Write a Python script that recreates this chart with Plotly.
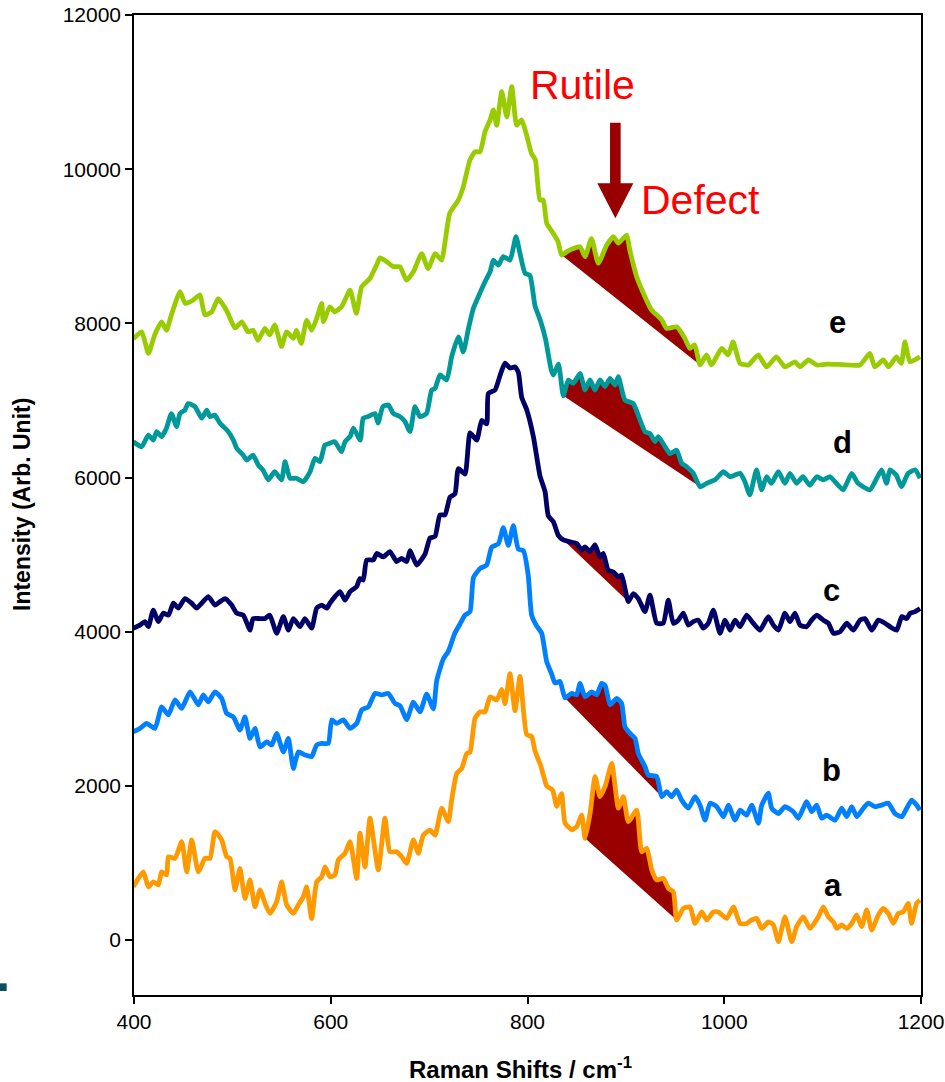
import plotly.graph_objects as go

# Raman spectra of samples a-e (offset stacked), wavenumber in cm-1
shift_e = [399.3, 407.8, 414.6, 421, 428, 433, 438, 446.8, 452, 460, 467, 472, 479, 485.6, 494, 502.7,
           509.5, 516, 521, 526, 533, 538, 543, 550, 555, 562, 565, 570, 575.5, 580.6, 585.7, 590.8,
           592.5, 599, 604, 611, 619.6, 626, 631.5, 640, 646.7, 650, 657, 663.6, 670.4, 677, 684, 692.4,
           699, 706, 712.8, 716, 721, 729.7, 734.7, 741.5, 746.6, 751.7, 756.8, 762, 765.3, 768.7, 773.8,
           778.9, 784, 789, 794, 799, 804, 808, 812.6, 816, 819.5, 826, 831, 834.7, 840, 846.5, 853.4,
           858.5, 865, 872, 880.5, 887.3, 892.3, 900.8, 904, 911, 919.4, 926, 931.3, 936.4, 941.5, 951.6,
           960, 965, 970, 975.4, 982, 987, 997.4, 1004, 1009, 1016, 1024.5, 1034.5, 1043, 1053, 1061.7,
           1072, 1077, 1085.5, 1094, 1104, 1120, 1138, 1148, 1153, 1161.7, 1167, 1175, 1180, 1183.6,
           1188.8, 1199]
int_e = [7800, 7890, 7610, 7850, 8020, 7910, 8110, 8410, 8260, 8300, 8370, 8110, 8150, 8320, 8170, 7940,
         8020, 7890, 7910, 7780, 7935, 7850, 7980, 7700, 7890, 7805, 7910, 7740, 8040, 7910, 8065, 8260,
         8020, 8215, 8150, 8215, 8430, 8130, 8475, 8585, 8760, 8850, 8800, 8735, 8735, 8560, 8670, 8905,
         8710, 8905, 8820, 9040, 9430, 9600, 9770, 10120, 10225, 10225, 10485, 10640, 10770, 10570, 11005,
         10680, 11070, 10570, 10640, 10445, 10205, 10120, 9600, 9600, 9300, 9170, 9060, 8885, 8930, 8970, 8995,
         8865, 9100, 8780, 9015, 9125, 9040, 9145, 8950, 8605, 8345, 8175, 8110, 8045, 7935, 7955,
         7805, 7675, 7720, 7460, 7590, 7460, 7675, 7590, 7760, 7480, 7460, 7590, 7435, 7565, 7435,
         7500, 7435, 7525, 7460, 7470, 7465, 7460, 7610, 7435, 7525, 7435, 7565, 7480, 7760,
         7500, 7565]

shift_d = [399.3, 407.8, 414.6, 419.6, 423, 428, 433, 438, 443.3, 446.7, 451.8, 455, 462, 468.8, 474, 477,
           482, 487.4, 495.8, 501, 504.4, 511, 514.6, 521, 526.4, 531, 536.5, 543, 550, 553.5, 558.6, 565,
           572, 579, 584, 589, 594, 599, 604, 611, 614.5, 619.6, 623, 630, 633, 638, 645, 648, 653, 658.6,
           663.6, 670.4, 675.5, 680.6, 685.6, 690.7, 697.4, 702.6, 706, 711, 717.8, 723, 729.7, 734.7, 740,
           745, 750, 756.8, 762, 765.3, 770.3, 775.4, 782.2, 788.3, 792.4, 797.5, 802.5, 807.6, 813.5,
           818.5, 824, 826.3, 831.5, 836.4, 841.5, 846.5, 853.4, 858.5, 863.5, 868.6, 873.7, 878.8, 883.9,
           889, 892.3, 899, 907.5, 914.4, 919.4, 924.5, 929.6, 933, 939.8, 944.8, 951.6, 956.7, 961.8,
           968.5, 975.4, 982, 990.6, 999, 1006, 1016, 1021, 1026, 1032.8, 1038, 1043, 1048, 1055, 1061.7,
           1066.8, 1073.5, 1080, 1087, 1094, 1100.6, 1107.5, 1114, 1121, 1129.5, 1136, 1148, 1155, 1160,
           1165, 1168.5, 1175, 1180, 1187, 1194, 1199]
int_d = [6465, 6400, 6550, 6485, 6595, 6530, 6640, 6830, 6660, 6830, 6875, 6960, 6920, 6770, 6875, 6790,
         6810, 6705, 6595, 6485, 6380, 6290, 6225, 6290, 6160, 6100, 5970, 6075, 5970, 6205, 5990, 5990,
         5945, 6075, 6250, 6205, 6420, 6445, 6465, 6335, 6465, 6530, 6640, 6485, 6770, 6790, 6830, 6705, 6920, 6940,
         6830, 6790, 6725, 6595, 6920, 6790, 6830, 7135, 7155, 7330, 7265, 7570, 7825, 7630, 7935,
         8195, 8345, 8540, 8670, 8820, 8755, 8865, 8820, 9125, 8905, 8650, 8620, 8230, 8020,
         7785, 7400, 7330, 7470, 7060, 7265, 7220, 7350, 7135, 7265, 7135, 7265, 7180, 7285,
         7200, 7310, 7005, 6960, 6745, 6595, 6570, 6465, 6530, 6400, 6310, 6355, 6185, 6140,
         6055, 5880, 5925, 5970, 6075, 6010, 6055, 5945, 5775, 6100, 5840, 6010, 5925, 6075, 5925,
         6055, 5925, 6010, 5900, 6010, 5970, 6010, 5925, 5840, 6055, 5925, 5840, 5990, 6100,
         5925, 6100, 6030, 5880, 6055, 6100, 5990]

shift_c = [399.3, 406, 411, 414.6, 419.6, 424.7, 429.8, 435, 440, 445, 451.8, 458.6, 463.6, 468.8, 475.6,
           482.3, 487.4, 492.5, 499.3, 504.4, 511, 518, 521, 528, 533, 538, 545, 551.8, 556.9, 562, 568.7,
           573.8, 580.6, 585.7, 590.8, 595.9, 599.2, 604.3, 609.4, 614.5, 619.6, 626.3, 629.7, 633, 636.5,
           643.3, 646.7, 653.4, 660.2, 667, 672, 677.2, 680.6, 687.4, 695.8, 700.9, 706, 711, 716.1, 721.2,
           726.3, 729.7, 736.5, 741.6, 748.4, 753.4, 758.5, 760.2, 767, 772, 777.1, 782.2, 787.3, 790.7,
           794.1, 799.2, 806, 812.7, 817.8, 821.2, 826.3, 831.3, 836.4, 843.2, 850, 855, 858.5, 863.5,
           868.6, 873.7, 877, 882, 887.2, 892.3, 895.7, 902.5, 907.6, 912.6, 919.4, 924.5, 931.3, 938,
           943.1, 948.2, 953.3, 958.4, 963.5, 968.5, 973.6, 978.7, 983.8, 988.9, 995.7, 1000.8, 1005.9,
           1011, 1016, 1022.8, 1029.5, 1036.3, 1044.8, 1049.9, 1055, 1061.7, 1066.8, 1071.9, 1077, 1083.7,
           1088.8, 1094, 1100.7, 1105.8, 1110.9, 1117.7, 1124.5, 1131.3, 1138, 1143, 1150, 1156.6, 1163.4,
           1168.5, 1175.3, 1180.4, 1185.5, 1189, 1194, 1199]
int_c = [4045, 4085, 4130, 4065, 4280, 4130, 4240, 4215, 4370, 4305, 4430, 4370, 4305, 4370, 4455,
         4345, 4390, 4430, 4345, 4240, 4215, 4020, 4170, 4170, 4170, 4215, 3980, 4195, 4020, 4170, 4065,
         4170, 4045, 4305, 4345, 4305, 4370, 4455, 4520, 4410, 4520, 4585, 4690, 4670, 4930,
         4930, 5015, 4970, 5040, 4910, 4950, 4910, 5050, 4865, 5005, 5215, 5235, 5515, 5515, 5745,
         5790, 6115, 6045, 6580, 6485, 6740, 6695, 7090, 7135, 7320, 7485, 7420, 7435, 7365,
         7040, 6880, 6530, 6020, 5820, 5500, 5425, 5250, 5190, 5165, 5145, 5060, 5100, 5040,
         5125, 4970, 5015, 4800, 4775, 4710, 4735, 4390, 4495, 4430, 4260, 4475, 4110, 4110,
         4410, 4110, 4150, 4240, 4085, 4130, 4150, 4045, 4110, 4280, 3980, 4150, 4020,
         4150, 4065, 4215, 4110, 4020, 4195, 4085, 4020, 4240, 4130, 4240, 4085, 4065,
         4150, 4215, 4150, 4110, 3980, 4000, 4110, 4020, 4150, 4170, 4020, 4150, 4110,
         4065, 4020, 4195, 4170, 4240, 4260, 4300]

shift_b = [399.3, 406.1, 412.9, 421.3, 428.1, 434.9, 441.7, 448.5, 456.9, 465.4, 470.4, 475.5, 482.3,
           489.1, 494.2, 500.9, 507.7, 512.8, 517.9, 523, 528.1, 534.9, 540, 545, 551.8, 556.9, 562, 567,
           573.8, 580.6, 585.7, 590.8, 597.5, 601, 606, 612.8, 619.6, 626.4, 631.5, 638.2, 645, 651.8,
           658.5, 665.3, 670.4, 677.2, 684, 690.7, 697.5, 704.3, 707.7, 714.4, 719.5, 726.3, 731.4, 736.5,
           741.6, 745, 751.8, 758.5, 763.6, 770.4, 775.4, 780.5, 785.6, 790.7, 795.8, 800.8, 804.2, 809.3,
           814.4, 819.5, 824.6, 827.9, 833, 838.1, 844.9, 850, 853.4, 858.5, 865.3, 870.3, 875.4, 879,
           883.9, 890.7, 895.7, 899.1, 904.2, 909.3, 912.6, 919.4, 922.8, 931.3, 936.4, 941.5, 946.6,
           951.6, 956.7, 963.5, 970.3, 975.4, 980.5, 985.6, 992.4, 999.2, 1004.2, 1011, 1016.1, 1022.8,
           1027.9, 1034.7, 1038.1, 1044.8, 1048.2, 1055, 1061.7, 1070.2, 1075.3, 1083.8, 1088.9, 1094,
           1099, 1104.1, 1112.6, 1119.4, 1124.5, 1129.6, 1134.7, 1141.4, 1146.4, 1153.3, 1160, 1166.8,
           1173.6, 1180.4, 1185.5, 1190.5, 1195.6, 1199]
int_b = [2700, 2745, 2810, 2745, 3025, 2920, 3115, 3005, 3220, 3050, 3180, 3090, 3220,
         3135, 2940, 2895, 2725, 2895, 2615, 2745, 2505, 2570, 2530, 2680, 2440, 2615, 2225, 2440,
         2400, 2380, 2530, 2550, 2550, 2855, 2810, 2855, 2745, 2810, 2985, 3025, 3200, 3180,
         3200, 3070, 3040, 2860, 3085, 2960, 3190, 3000, 3365, 3645, 3745, 3985, 4100, 4215,
         4260, 4700, 4820, 4865, 5095, 5140, 5350, 5120, 5375, 5070, 5050, 4725, 4215, 4075,
         3980, 3612, 3450, 3335, 3355, 3140, 3200, 3180, 3330, 3155, 3220, 3180, 3330, 3300,
         3050, 3135, 3070, 2765, 2680, 2615, 2420, 2250, 2140, 2120, 1860, 1925, 1860,
         1945, 1815, 1710, 1860, 1750, 1555, 1775, 1730, 1600, 1750, 1555, 1685, 1620,
         1750, 1515, 1750, 1905, 1710, 1640, 1730, 1665, 1580, 1795, 1665, 1750,
         1580, 1620, 1555, 1710, 1600, 1730, 1600, 1710, 1775, 1730, 1750, 1775,
         1640, 1600, 1710, 1815, 1750, 1685]

shift_a = [399.3, 404.4, 409.5, 414.6, 419.6, 424.7, 428.1, 433.2, 434.9, 441.7, 448.5, 453.6, 458.7,
           465.4, 472.2, 477.3, 482.3, 489.1, 494.2, 497.6, 502.7, 507.7, 512.8, 517.9, 523, 528.1, 533.2,
           538.2, 545, 550.1, 555.2, 561.9, 567, 572.1, 575.5, 580.6, 585.7, 590.8, 594.2, 599.2, 604.3,
           607.7, 614.5, 619.6, 626.4, 629.7, 634.8, 639.9, 648.3, 655.1, 660.2, 667, 672.1, 677.2, 684,
           689, 694.1, 700.9, 706, 712.8, 719.5, 722.9, 728, 733.1, 738.2, 741.6, 746.6, 751.7, 756.8,
           761.9, 768.7, 773.8, 777.1, 782.2, 787.3, 792.4, 799.2, 804.2, 807.6, 813.5, 819.5, 825.5,
           829.7, 834.7, 838.1, 845, 850, 855.1, 858.5, 863.6, 868.7, 873.7, 878.8, 885.6, 892.4, 897.4,
           902.5, 911, 916.1, 921.2, 926.3, 931.3, 938.1, 943.2, 948.3, 951.6, 958.4, 965.2, 970.3, 977.1,
           982.2, 988.9, 994, 1002.5, 1009.3, 1016.1, 1022.9, 1027.9, 1033, 1038.1, 1044.9, 1050, 1055,
           1061.7, 1068.6, 1073.6, 1080.4, 1087.2, 1095.6, 1100.7, 1105.8, 1110.9, 1114.3, 1119.4, 1124.5,
           1129.6, 1134.6, 1139.7, 1144.8, 1149.9, 1156.6, 1161.7, 1166.8, 1171.9, 1176.9, 1182, 1187,
           1190.4, 1195.5, 1198.9]
int_a = [690, 800, 885, 690, 755, 715, 885, 845, 1080, 1060, 1275, 885, 1300,
         885, 1060, 1060, 1405, 1300, 1080, 1060, 650, 930, 540, 780, 430, 650, 475,
         345, 495, 755, 455, 345, 455, 560, 690, 280, 755, 820, 950, 820, 845,
         1040, 1125, 1275, 800, 1385, 950, 1580, 910, 1580, 1145, 1145, 1080, 995, 1300,
         1125, 1360, 1425, 1360, 1710, 1535, 1815, 2160, 2225, 2420, 2440, 2875, 2960, 2960,
         3155, 3115, 3250, 3065, 3455, 2975, 3420, 2665, 2640, 2455, 2260, 2000, 1945,
         1735, 1900, 1520, 1430, 1470, 1620, 1320, 1645, 2120, 1860, 1990, 2290, 1710, 1860,
         1535, 1685, 1145, 1190, 910, 780, 800, 670, 625, 260, 410, 430, 215, 365,
         260, 365, 365, 280, 430, 215, 215, 260, 280, 150, 235, 195, -20,
         300, -20, 175, 300, 150, 300, 430, 300, 235, 150, 195, 150,
         215, 325, 175, 390, 130, 325, 410, 345, 215, 345, 365, 475,
         215, 475, 520]

# Sample labels, colours and the defect-band window (cm-1) of each spectrum
sample_names = ["a", "b", "c", "d", "e"]
sample_colors = ["#FF9900", "#0080FF", "#000066", "#009999", "#99CC00"]
defect_start = [858.5, 838.1, 836.4, 836.4, 834.7]
defect_end = [951.6, 936.4, 902.5, 975.4, 975.4]
label_pos_x = [1110.5, 1109.5, 1109.5, 1120.7, 1115.6]
label_pos_y = [710, 2205, 4540, 6460, 8015]

x_ticks = [400, 600, 800, 1000, 1200]
y_ticks = [0, 2000, 4000, 6000, 8000, 10000, 12000]

spectra = [(shift_a, int_a), (shift_b, int_b), (shift_c, int_c), (shift_d, int_d), (shift_e, int_e)]

FILL = "#990000"
FONT = "Arial, Liberation Sans, sans-serif"

fig = go.Figure()

# Defect band: area between each spectrum and the straight chord joining its window edges
for (xs, ys), x0, x1 in zip(spectra, defect_start, defect_end):
    px = [x for x in xs if x0 <= x <= x1]
    py = [y for x, y in zip(xs, ys) if x0 <= x <= x1]
    fig.add_trace(go.Scatter(x=px, y=py, mode="lines", fill="toself", fillcolor=FILL,
                             line=dict(width=0, color=FILL), hoverinfo="skip", showlegend=False))

for (xs, ys), name, color in zip(spectra, sample_names, sample_colors):
    fig.add_trace(go.Scatter(x=xs, y=ys, mode="lines", name=name,
                             line=dict(color=color, width=4.8, shape="spline", smoothing=0.5),
                             showlegend=False))

annotations = []
for name, lx, ly in zip(sample_names, label_pos_x, label_pos_y):
    annotations.append(dict(x=lx, y=ly, xref="x", yref="y", text=f"<b>{name}</b>", showarrow=False,
                            font=dict(family=FONT, size=31, color="#000000")))

annotations += [
    dict(x=856.4, y=11090, xref="x", yref="y", text="Rutile", showarrow=False,
         font=dict(family=FONT, size=41, color="#FF0000")),
    dict(x=975.4, y=9600, xref="x", yref="y", text="Defect", showarrow=False,
         font=dict(family=FONT, size=41, color="#FF0000")),
    dict(x=-0.1423, y=0.5, xref="paper", yref="paper", text="<b>Intensity (Arb. Unit)</b>",
         textangle=-90, showarrow=False, xanchor="center", yanchor="middle",
         font=dict(family=FONT, size=23, color="#000000")),
    dict(x=0.4905, y=-0.0745, xref="paper", yref="paper", text="<b>Raman Shifts / cm<sup>-1</sup></b>",
         showarrow=False, xanchor="center", yanchor="middle",
         font=dict(family=FONT, size=24, color="#000000")),
]

shapes = [
    # downward arrow pointing at the defect band
    dict(type="path", xref="x", yref="y",
         path="M 883.9,10603 L 894.7,10603 L 894.7,9817 L 907.6,9817 L 889.3,9363 L 871,9817 L 883.9,9817 Z",
         fillcolor=FILL, line=dict(width=0)),
    # small marker at the lower left of the page
    dict(type="rect", xref="paper", yref="paper", x0=-0.1703, x1=-0.1618, y0=0.0041, y1=0.0119,
         fillcolor="#0B4F5C", line=dict(width=0)),
]

fig.update_layout(
    width=945, height=1082, autosize=False,
    margin=dict(l=134, r=24, t=15, b=87, autoexpand=False),
    paper_bgcolor="white", plot_bgcolor="white",
    annotations=annotations, shapes=shapes,
    font=dict(family=FONT, color="#000000"),
)
axis_style = dict(ticks="outside", ticklen=7, tickwidth=1.5, tickcolor="#000000", showline=True,
                  linecolor="#000000", linewidth=1.5, mirror=True, showgrid=False, zeroline=False,
                  automargin=False, tickfont=dict(family=FONT, size=21, color="#000000"))
fig.update_xaxes(range=[400, 1200], tickvals=x_ticks, ticktext=[str(v) for v in x_ticks], **axis_style)
fig.update_yaxes(range=[-713, 12000], tickvals=y_ticks, ticktext=[str(v) for v in y_ticks], **axis_style)

fig.write_html("out.html")
